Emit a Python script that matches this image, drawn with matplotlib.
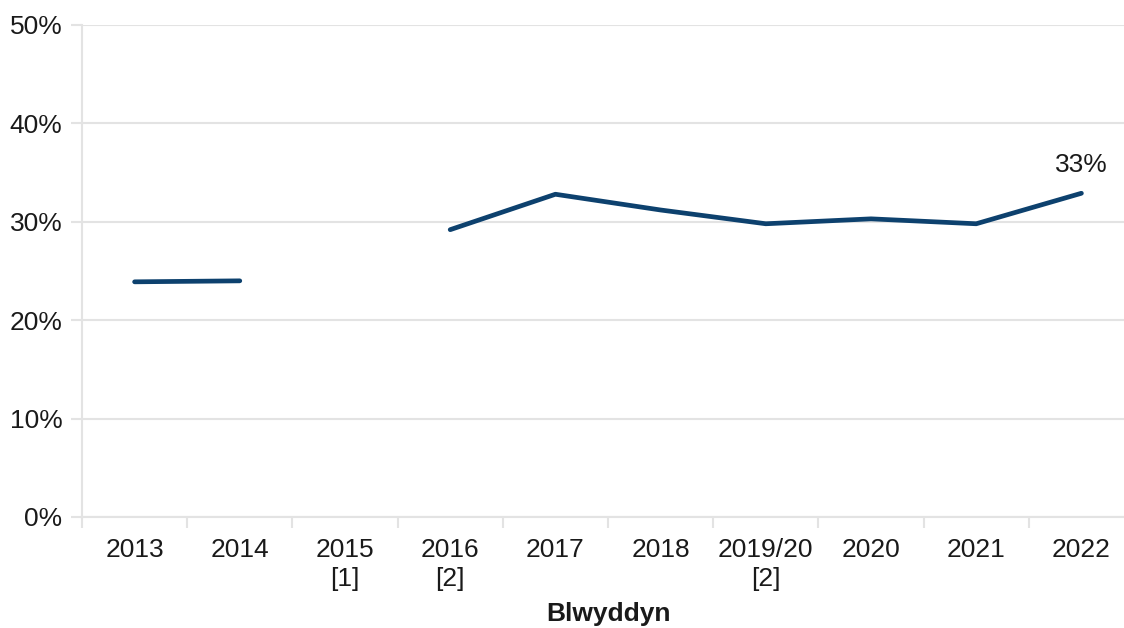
import numpy as np
import matplotlib
matplotlib.use("Agg")
import matplotlib.pyplot as plt
from matplotlib.ticker import FixedLocator

categories = ["2013", "2014", "2015\n[1]", "2016\n[2]", "2017", "2018",
              "2019/20\n[2]", "2020", "2021", "2022"]
values = [23.9, 24.0, np.nan, 29.2, 32.8, 31.2, 29.8, 30.3, 29.8, 32.9]
yticks = [0, 10, 20, 30, 40, 50]
last_label = "33%"
xlabel = "Blwyddyn"

plt.rcParams['font.family'] = ['Liberation Sans', 'DejaVu Sans']

W, H = 1124, 628
fig = plt.figure(figsize=(W / 100, H / 100), dpi=100)
left, right, bottom, top = 82, 1124, 517, 25
ax = fig.add_axes([left / W, (H - bottom) / H, (right - left) / W, (bottom - top) / H])

x = np.arange(len(categories))
ax.plot(x, values, color="#0d416e", lw=3.4, solid_capstyle="round",
        solid_joinstyle="round", zorder=3)

fs = 19
ax.set_ylim(0, 50)
ax.set_xlim(-0.5, -0.5 + (right - left) / 105.2)
ax.set_yticks(yticks)
ax.set_yticklabels([f"{v}%" for v in yticks])
ax.set_xticks(x)
ax.set_xticklabels(categories, linespacing=1.25)
ax.xaxis.set_minor_locator(FixedLocator(np.arange(-0.5, len(categories), 1.0)))

grid_c = "#e3e3e3"
ax.grid(axis="y", color=grid_c, lw=1.5, zorder=0)
ax.tick_params(axis="y", length=8, width=1.5, color=grid_c, pad=6,
               labelsize=fs, labelcolor="#1a1a1a")
ax.tick_params(axis="x", which="major", length=0, pad=15,
               labelsize=fs, labelcolor="#1a1a1a")
ax.tick_params(axis="x", which="minor", length=8, width=1.5, color=grid_c)
for s in ["top", "right"]:
    ax.spines[s].set_visible(False)
for s in ["left", "bottom"]:
    ax.spines[s].set_color(grid_c)
    ax.spines[s].set_linewidth(1.5)
ax.set_axisbelow(True)

ax.annotate(last_label, (x[-1], values[-1]), xytext=(0, 12),
            textcoords="offset points", ha="center", va="bottom",
            fontsize=fs, color="#1a1a1a")

ax.set_xlabel(xlabel, fontsize=fs, fontweight="bold", color="#1a1a1a")
ax.xaxis.set_label_coords((608 - left) / (right - left), -(614 - bottom) / (bottom - top),
                          transform=ax.transAxes)
ax.xaxis.label.set_va("center")

fig.savefig("out.png", dpi=100)
